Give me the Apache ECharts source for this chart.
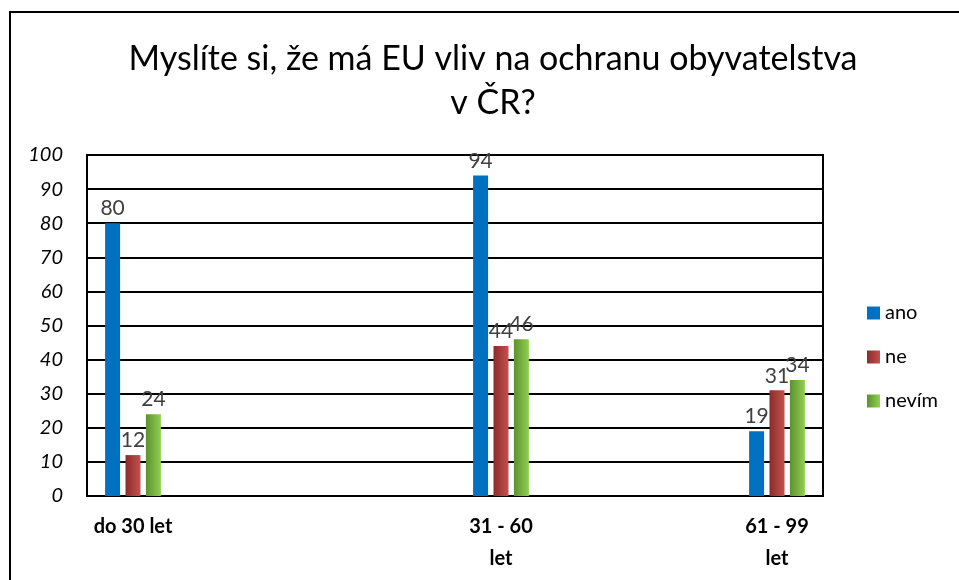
<!DOCTYPE html>
<html>
<head>
<meta charset="utf-8">
<script src="https://cdn.jsdelivr.net/npm/echarts@6/dist/echarts.min.js"></script>
<style>
  html, body { margin: 0; padding: 0; background: #fff; overflow: hidden; }
  #myChart { width: 959px; height: 580px; }
  #frame {
    position: absolute; left: 9px; top: 11px; width: 980px; height: 600px;
    border: 2px solid #000; pointer-events: none;
  }
</style>
</head>
<body>
<div id="myChart"></div>
<div id="frame"></div>
<script>
// empty categories only space the three groups the way the original sheet does
const categories = ['do 30 let', '', '', '', '31 - 60\nlet', '', '', '61 - 99\nlet']
const ano = [80, null, null, null, 94, null, null, 19]
const ne = [12, null, null, null, 44, null, null, 31]
const nevim = [24, null, null, null, 46, null, null, 34]
const yTicks = [0, 10, 20, 30, 40, 50, 60, 70, 80, 90, 100]

const font = 'Lato, "Open Sans", sans-serif'

function grad (dark, light) {
  return new echarts.graphic.LinearGradient(0, 0, 1, 0, [
    { offset: 0, color: dark },
    { offset: 1, color: light }
  ])
}

const label = {
  show: true,
  position: 'top',
  distance: 4,
  color: '#404040',
  fontSize: 21,
  fontFamily: font
}

var myChart = echarts.init(document.getElementById('myChart'))
myChart.setOption({
  animation: false,
  backgroundColor: '#fff',
  title: {
    text: 'Myslíte si, že má EU vliv na ochranu obyvatelstva\nv ČR?',
    left: 488,
    textAlign: 'center',
    top: 32,
    textStyle: {
      fontFamily: font,
      fontWeight: 'normal',
      fontSize: 34,
      lineHeight: 44,
      color: '#000'
    }
  },
  legend: {
    orient: 'vertical',
    left: 862,
    top: 298,
    itemWidth: 13,
    itemHeight: 13,
    itemGap: 24,
    icon: 'rect',
    textStyle: { fontFamily: font, fontSize: 20, color: '#000' },
    data: ['ano', 'ne', 'nevím']
  },
  grid: {
    left: 87,
    top: 155,
    width: 736,
    height: 341,
    show: true,
    borderColor: '#000',
    borderWidth: 2,
    containLabel: false
  },
  xAxis: {
    type: 'category',
    data: categories,
    axisLine: { lineStyle: { color: '#000', width: 2 } },
    axisTick: { show: false },
    axisLabel: {
      interval: 0,
      margin: 15,
      fontFamily: font,
      fontWeight: 'bold',
      fontSize: 20,
      lineHeight: 32,
      color: '#000'
    }
  },
  yAxis: {
    type: 'value',
    min: yTicks[0],
    max: yTicks[yTicks.length - 1],
    interval: 10,
    axisLine: { show: true, lineStyle: { color: '#000', width: 2 } },
    axisTick: { show: false },
    splitLine: { lineStyle: { color: '#000', width: 2 } },
    axisLabel: {
      margin: 24,
      fontFamily: font,
      fontStyle: 'italic',
      fontSize: 20,
      color: '#000'
    }
  },
  series: [
    {
      name: 'ano',
      type: 'bar',
      data: ano,
      barWidth: 15,
      barGap: '36%',
      itemStyle: { color: '#0070C0' },
      label: label
    },
    {
      name: 'ne',
      type: 'bar',
      data: ne,
      barWidth: 15,
      barGap: '36%',
      itemStyle: { color: grad('#8A2C2A', '#C4504D') },
      label: label
    },
    {
      name: 'nevím',
      type: 'bar',
      data: nevim,
      barWidth: 15,
      barGap: '36%',
      itemStyle: { color: grad('#5C9030', '#92D050') },
      label: label
    }
  ]
})
</script>
</body>
</html>
